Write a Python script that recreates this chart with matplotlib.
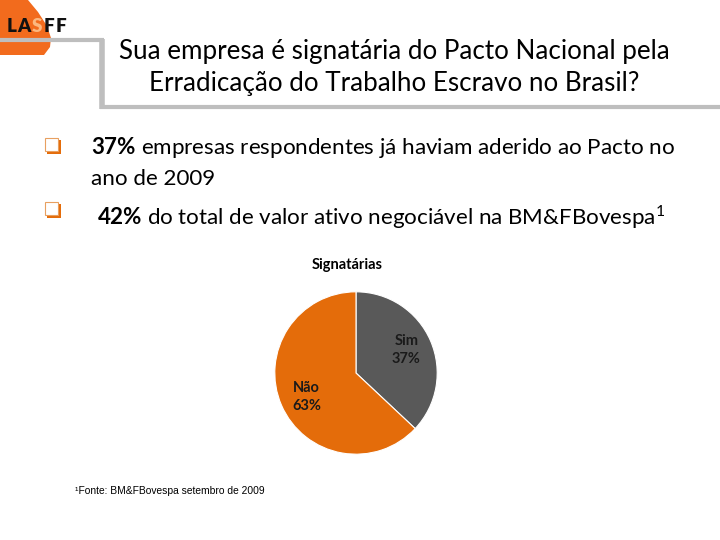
import matplotlib.pyplot as plt
from matplotlib.patches import Polygon, Rectangle

# Dados
labels = ['Sim', 'Não']
values = [37, 63]
colors = ['#595959', '#E46C0A']
title_lines = ['Sua empresa é signatária do Pacto Nacional pela',
               'Erradicação do Trabalho Escravo no Brasil?']

plt.rcParams['font.family'] = ['Lato', 'DejaVu Sans']
plt.rcParams['mathtext.fontset'] = 'custom'
plt.rcParams['mathtext.bf'] = 'Lato:bold'
plt.rcParams['mathtext.rm'] = 'Lato'

fig = plt.figure(figsize=(7.2, 5.4), dpi=100)
bg = fig.add_axes([0, 0, 1, 1])
bg.set_xlim(0, 720)
bg.set_ylim(540, 0)
bg.axis('off')

# logo
bg.add_patch(Polygon([(0, 0), (28, 0), (38, 12), (47, 26), (51, 38),
                      (50, 47), (44, 55), (0, 55)], closed=True,
                     color='#F26B1D', lw=0, zorder=1))
bg.plot([0, 104], [40, 40], color='#BEBEBE', lw=3, solid_capstyle='butt', zorder=2)
for ch, x, c in zip('LASFF', [12, 24, 37, 49, 61],
                    ['#111111', '#111111', '#FBB880', '#111111', '#111111']):
    bg.text(x, 26, ch, fontsize=13.5, fontweight='heavy', color=c,
            ha='center', va='center', zorder=3)

# moldura do título
bg.plot([102, 102], [39, 109], color='#BEBEBE', lw=4, solid_capstyle='butt')
bg.plot([100, 720], [107, 107], color='#BEBEBE', lw=3, solid_capstyle='butt')
bg.text(394, 51, title_lines[0], fontsize=18.7, ha='center', va='center', color='black')
bg.text(394, 83, title_lines[1], fontsize=18.7, ha='center', va='center', color='black')

# marcadores
for y in (146, 210):
    bg.add_patch(Rectangle((47, y - 6), 14, 14, facecolor='#E46C0A', lw=0))
    bg.add_patch(Rectangle((45, y - 8), 13, 13, facecolor='white', edgecolor='#E8A060', lw=0.8))

bg.text(91, 147, r'$\mathbf{37\%}$ empresas respondentes já haviam aderido ao Pacto no',
        fontsize=16.1, va='center')
bg.text(91, 179, 'ano de 2009', fontsize=16.1, va='center')
bg.text(97, 217, r'$\mathbf{42\%}$ do total de valor ativo negociável na BM&FBovespa$^{\mathrm{1}}$',
        fontsize=16.1, va='center')

bg.text(347, 265, 'Signatárias', fontsize=10.5, fontweight='bold', ha='center', va='center')
bg.text(75, 491, '¹Fonte: BM&FBovespa setembro de 2009', fontsize=7.4,
        family='Liberation Sans', va='center')

# pizza
ax = fig.add_axes([274 / 720, 1 - 455 / 540, 164 / 720, 164 / 540])
wedges, _ = ax.pie(values, colors=colors, startangle=90, counterclock=False,
                   wedgeprops=dict(edgecolor='white', linewidth=0.8))
ax.set_xlim(-1.01, 1.01)
ax.set_ylim(-1.01, 1.01)
ax.set_aspect('equal')
ax.text(0.62, 0.28, 'Sim\n37%', fontsize=10.5, fontweight='bold', ha='center',
        va='center', color='#1a1a1a', linespacing=1.35)
ax.text(-0.61, -0.3, 'Não\n63%', fontsize=10.5, fontweight='bold', ha='center',
        va='center', color='#1a1a1a', linespacing=1.35)

fig.savefig('out.png', dpi=100)
